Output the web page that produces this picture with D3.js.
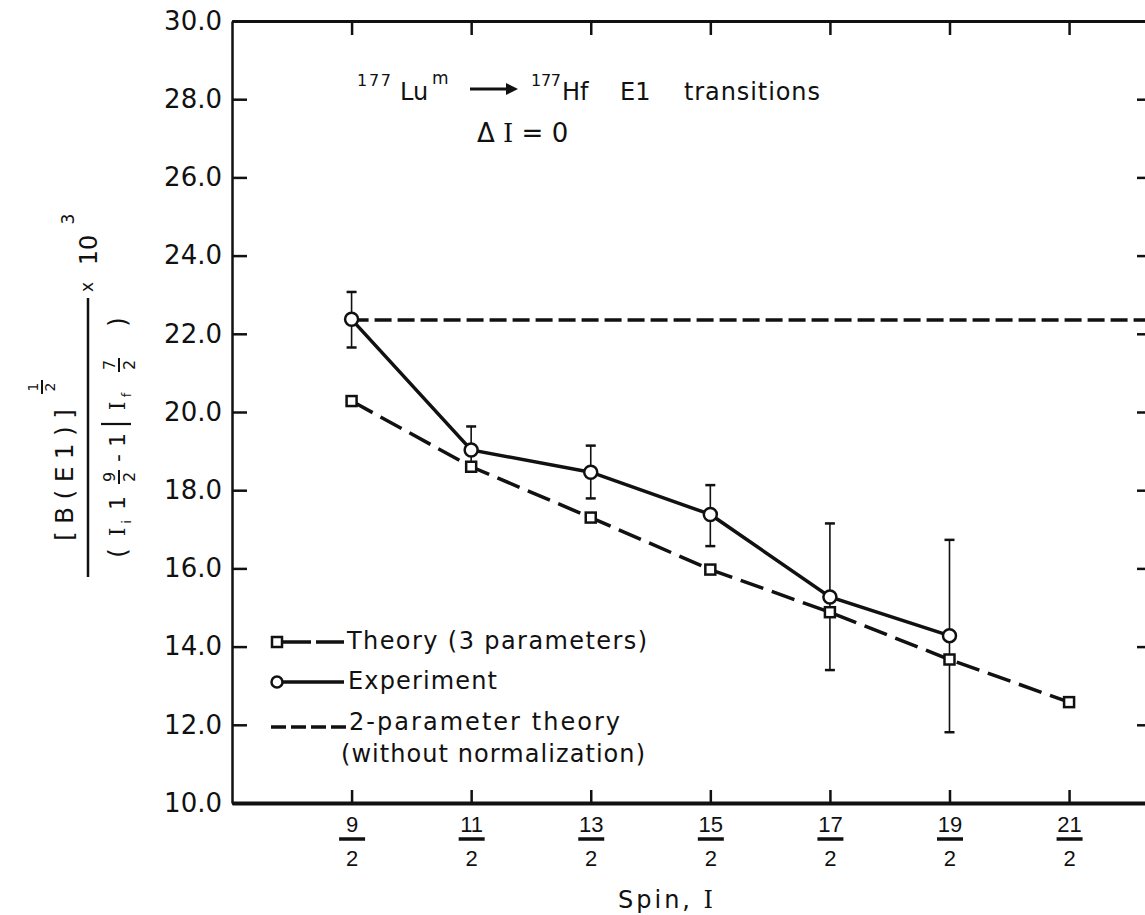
<!DOCTYPE html>
<html>
<head>
<title>177Lu E1 transitions</title>
<script src="https://cdn.jsdelivr.net/npm/d3@7"></script>
<style>
  body { margin: 0; background: #fff; }
  svg { display: block; font-family: "DejaVu Sans", sans-serif; }
</style>
</head>
<body>
<svg id="svg" width="1145" height="915"></svg>
<script>
// spin I = n/2, we keep the numerators
const spinNum = [9, 11, 13, 15, 17, 19, 21];
const theory3 = [20.28, 18.6, 17.3, 15.97, 14.88, 13.67, 12.58];
const expNum = [9, 11, 13, 15, 17, 19];
const experiment = [22.37, 19.03, 18.46, 17.38, 15.27, 14.28];
const expLow = [21.65, 18.48, 17.79, 16.57, 13.4, 11.81];
const expHigh = [23.07, 19.63, 19.14, 18.13, 17.15, 16.73];
const twoParam = 22.35;
const yTicks = [10, 12, 14, 16, 18, 20, 22, 24, 26, 28, 30];
const legendLabels = ["Theory (3 parameters)", "Experiment", "2-parameter theory", "(without normalization)"];

const ink = "#111";
const mLeft = 232, mRight = 1148, mTop = 21, mBottom = 803;

const svg = d3.select("#svg");
svg.append("rect").attr("width", 1145).attr("height", 915).attr("fill", "#fff");

const xscale = d3.scaleLinear().domain([3.5, 11.16]).range([mLeft, mRight]);
const yscale = d3.scaleLinear().domain([10, 30]).range([mBottom, mTop]);

// frame + ticks (all ticks point inward)
const leftAxis = svg.append("g")
  .attr("transform", `translate(${mLeft},0)`)
  .call(d3.axisLeft(yscale).tickValues(yTicks).tickSize(-15).tickSizeOuter(0)
    .tickPadding(10).tickFormat(d3.format(".1f")));
leftAxis.select(".domain").attr("stroke", ink).attr("stroke-width", 2.5);
leftAxis.selectAll(".tick line").attr("stroke", ink).attr("stroke-width", 2.5);
leftAxis.selectAll(".tick text").attr("fill", ink).attr("font-size", 26)
  .attr("font-family", "DejaVu Sans");

const rightAxis = svg.append("g")
  .attr("transform", `translate(${mRight},0)`)
  .call(d3.axisRight(yscale).tickValues(yTicks).tickSize(-11).tickSizeOuter(0).tickFormat(""));
rightAxis.selectAll("path, line").attr("stroke", ink).attr("stroke-width", 2.5);

const topAxis = svg.append("g")
  .attr("transform", `translate(0,${mTop})`)
  .call(d3.axisTop(xscale).tickValues(spinNum.map(n => n / 2)).tickSize(-14).tickSizeOuter(0).tickFormat(""));
topAxis.select(".domain").attr("stroke", ink).attr("stroke-width", 3);
topAxis.selectAll(".tick line").attr("stroke", ink).attr("stroke-width", 2.5);

const bottomAxis = svg.append("g")
  .attr("transform", `translate(0,${mBottom})`)
  .call(d3.axisBottom(xscale).tickValues(spinNum.map(n => n / 2)).tickSize(-13).tickSizeOuter(0).tickFormat(""));
bottomAxis.select(".domain").attr("stroke", ink).attr("stroke-width", 4);
bottomAxis.selectAll(".tick line").attr("stroke", ink).attr("stroke-width", 2.5);

// fraction tick labels n/2
bottomAxis.selectAll(".tick").each(function (d) {
  const t = d3.select(this);
  t.append("text").attr("y", 29).attr("text-anchor", "middle")
    .attr("font-size", 22).attr("fill", ink).text(Math.round(d * 2));
  t.append("line").attr("x1", -13).attr("x2", 13).attr("y1", 36).attr("y2", 36)
    .attr("stroke", ink).attr("stroke-width", 3.5);
  t.append("text").attr("y", 63).attr("text-anchor", "middle")
    .attr("font-size", 22).attr("fill", ink).text("2");
});

const theoryPts = spinNum.map((n, i) => ({ x: n / 2, y: theory3[i] }));
const expPts = expNum.map((n, i) => ({ x: n / 2, y: experiment[i], lo: expLow[i], hi: expHigh[i] }));

const linegen = d3.line().x(d => xscale(d.x)).y(d => yscale(d.y));

// 2-parameter theory, flat line from 9/2 to the right edge
svg.append("path")
  .attr("d", linegen([{ x: 4.5, y: twoParam }, { x: xscale.domain()[1], y: twoParam }]))
  .attr("fill", "none").attr("stroke", ink).attr("stroke-width", 3.5)
  .attr("stroke-dasharray", "17,6");

svg.append("path")
  .attr("d", linegen(theoryPts))
  .attr("fill", "none").attr("stroke", ink).attr("stroke-width", 3.5)
  .attr("stroke-dasharray", "24,9");

svg.append("path")
  .attr("d", linegen(expPts))
  .attr("fill", "none").attr("stroke", ink).attr("stroke-width", 3.5);

// error bars
const eb = svg.append("g").attr("stroke", ink);
eb.selectAll(".bar").data(expPts).join("line").attr("class", "bar")
  .attr("x1", d => xscale(d.x)).attr("x2", d => xscale(d.x))
  .attr("y1", d => yscale(d.lo)).attr("y2", d => yscale(d.hi))
  .attr("stroke-width", 1.6);
eb.selectAll(".caplo").data(expPts).join("line").attr("class", "caplo")
  .attr("x1", d => xscale(d.x) - 5).attr("x2", d => xscale(d.x) + 5)
  .attr("y1", d => yscale(d.lo)).attr("y2", d => yscale(d.lo))
  .attr("stroke-width", 2.5);
eb.selectAll(".caphi").data(expPts).join("line").attr("class", "caphi")
  .attr("x1", d => xscale(d.x) - 5).attr("x2", d => xscale(d.x) + 5)
  .attr("y1", d => yscale(d.hi)).attr("y2", d => yscale(d.hi))
  .attr("stroke-width", 2.5);

svg.selectAll(".sq").data(theoryPts).join("rect").attr("class", "sq")
  .attr("x", d => xscale(d.x) - 5).attr("y", d => yscale(d.y) - 5)
  .attr("width", 10).attr("height", 10)
  .attr("fill", "#fff").attr("stroke", ink).attr("stroke-width", 2.5);

svg.selectAll(".ci").data(expPts).join("circle").attr("class", "ci")
  .attr("cx", d => xscale(d.x)).attr("cy", d => yscale(d.y)).attr("r", 6.5)
  .attr("fill", "#fff").attr("stroke", ink).attr("stroke-width", 2.5);

// legend
const lg = svg.append("g").attr("fill", ink).attr("font-size", 24);
lg.append("line").attr("x1", 283).attr("x2", 345).attr("y1", 642).attr("y2", 642)
  .attr("stroke", ink).attr("stroke-width", 3.5).attr("stroke-dasharray", "28,5");
lg.append("rect").attr("x", 272).attr("y", 637).attr("width", 10).attr("height", 10)
  .attr("fill", "#fff").attr("stroke", ink).attr("stroke-width", 2.5);
lg.append("line").attr("x1", 283).attr("x2", 344).attr("y1", 682).attr("y2", 682)
  .attr("stroke", ink).attr("stroke-width", 3.5);
lg.append("circle").attr("cx", 277).attr("cy", 682).attr("r", 5.5)
  .attr("fill", "#fff").attr("stroke", ink).attr("stroke-width", 2.5);
lg.append("line").attr("x1", 271).attr("x2", 346).attr("y1", 727).attr("y2", 727)
  .attr("stroke", ink).attr("stroke-width", 3.5).attr("stroke-dasharray", "15,5");
const legendPos = [[347, 649, 300], [348, 689, 149], [349, 730, 271], [341, 762, 304]];
legendLabels.forEach((s, i) => {
  lg.append("text").attr("x", legendPos[i][0]).attr("y", legendPos[i][1])
    .attr("textLength", legendPos[i][2]).attr("lengthAdjust", "spacing").text(s);
});

// title annotation
const an = svg.append("g").attr("fill", ink);
an.append("text").attr("x", 357).attr("y", 86).attr("font-size", 16).attr("textLength", 34).text("177");
an.append("text").attr("x", 400).attr("y", 100).attr("font-size", 24).text("Lu");
an.append("text").attr("x", 432).attr("y", 84).attr("font-size", 17).text("m");
an.append("line").attr("x1", 470).attr("x2", 508).attr("y1", 89).attr("y2", 89)
  .attr("stroke", ink).attr("stroke-width", 3);
an.append("path").attr("d", "M506,83 L518,89 L506,95 Z");
an.append("text").attr("x", 531).attr("y", 86).attr("font-size", 16).attr("textLength", 30).text("177");
an.append("text").attr("x", 562).attr("y", 100).attr("font-size", 24).text("Hf");
an.append("text").attr("x", 620).attr("y", 100).attr("font-size", 24).text("E1");
an.append("text").attr("x", 684).attr("y", 100).attr("font-size", 24)
  .attr("textLength", 136).attr("lengthAdjust", "spacing").text("transitions");
const di = an.append("text").attr("x", 477).attr("y", 142).attr("font-size", 26);
di.append("tspan").text("Δ ");
di.append("tspan").attr("font-family", "DejaVu Serif").text("I");
di.append("tspan").text(" = 0");

// x-axis title
const xt = svg.append("text").attr("x", 618).attr("y", 908).attr("font-size", 24)
  .attr("fill", ink).attr("letter-spacing", 3);
xt.append("tspan").text("Spin, ");
xt.append("tspan").attr("font-family", "DejaVu Serif").text("I");

// y-axis title, rotated; local x runs up the page
const yl = svg.append("g").attr("transform", "translate(88,0) rotate(-90)").attr("fill", ink);
yl.append("line").attr("x1", -577).attr("x2", -298).attr("y1", 0).attr("y2", 0)
  .attr("stroke", ink).attr("stroke-width", 2.5);
yl.append("text").attr("x", -475).attr("y", -15).attr("text-anchor", "middle")
  .attr("font-size", 25).attr("textLength", 132).attr("lengthAdjust", "spacing").text("[B(E1)]");
yl.append("text").attr("x", -387).attr("y", -50).attr("text-anchor", "middle").attr("font-size", 14).text("1");
yl.append("line").attr("x1", -394).attr("x2", -380).attr("y1", -46).attr("y2", -46)
  .attr("stroke", ink).attr("stroke-width", 2);
yl.append("text").attr("x", -387).attr("y", -33).attr("text-anchor", "middle").attr("font-size", 14).text("2");

const mid = (x, y, s, t, fam) => {
  const e = yl.append("text").attr("x", x).attr("y", y).attr("text-anchor", "middle")
    .attr("font-size", s).text(t);
  if (fam) e.attr("font-family", fam);
  return e;
};
const frac = (x, num) => {
  mid(x, 27, 16, num);
  yl.append("line").attr("x1", x - 7).attr("x2", x + 7).attr("y1", 31).attr("y2", 31)
    .attr("stroke", ink).attr("stroke-width", 2);
  mid(x, 47, 16, "2");
};
mid(-553, 38, 24, "(");
mid(-532, 37, 22, "I", "DejaVu Serif");
mid(-522, 43, 13, "i");
mid(-503, 37, 22, "1");
frac(-477, "9");
mid(-458, 37, 22, "-");
mid(-440, 37, 22, "1");
yl.append("line").attr("x1", -424).attr("x2", -424).attr("y1", 13).attr("y2", 43)
  .attr("stroke", ink).attr("stroke-width", 2.2);
mid(-406, 37, 22, "I", "DejaVu Serif");
mid(-395, 43, 13, "f");
frac(-365, "7");
mid(-322, 38, 24, ")");

mid(-287, 5, 17, "x");
mid(-250, 9, 24, "10");
mid(-219, -14, 17, "3");
</script>
</body>
</html>
